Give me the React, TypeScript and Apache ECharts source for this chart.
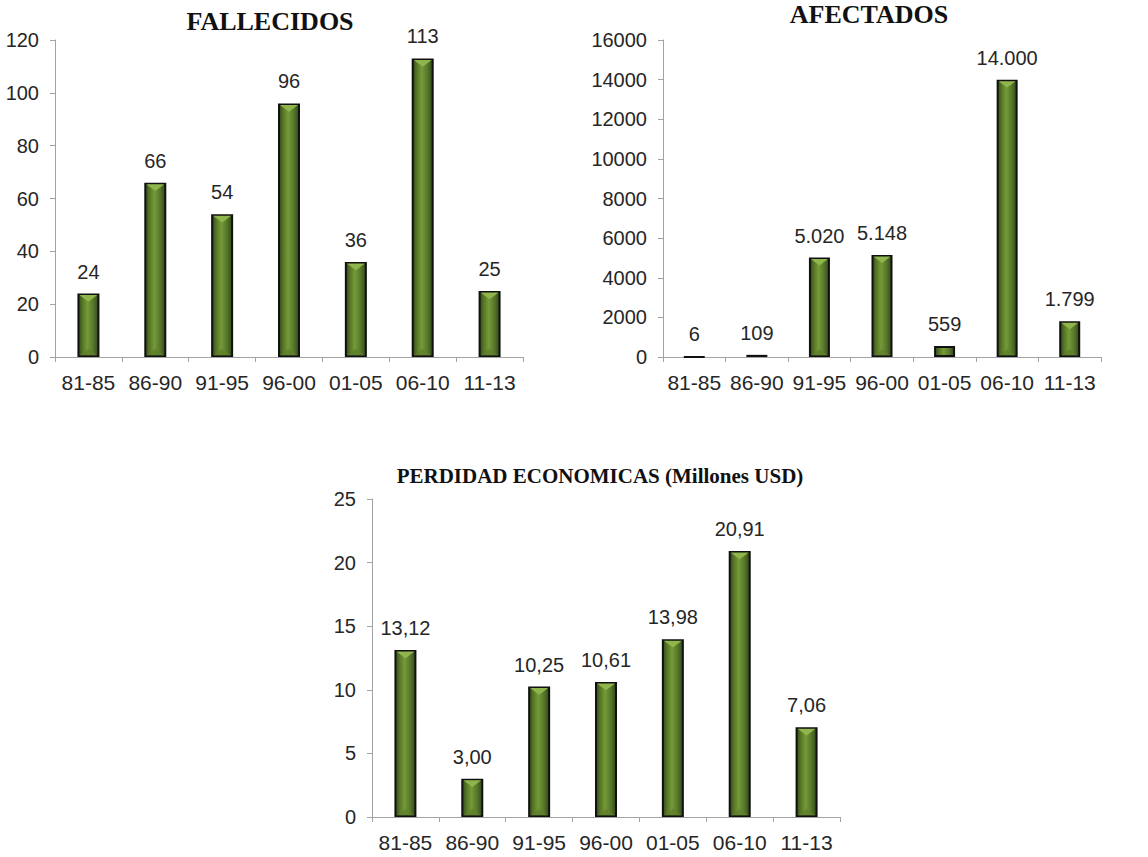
import React, { useEffect, useRef } from "react";
import * as echarts from "echarts";

// Five-year periods shared by the three panels
const periods = ["81-85", "86-90", "91-95", "96-00", "01-05", "06-10", "11-13"];

// Deaths per period
const fallecidos = [24, 66, 54, 96, 36, 113, 25];
// People affected per period
const afectados = [6, 109, 5020, 5148, 559, 14000, 1799];
// Economic losses, millions of USD
const perdidas = [13.12, 3.0, 10.25, 10.61, 13.98, 20.91, 7.06];

const titles = ["FALLECIDOS", "AFECTADOS", "PERDIDAD ECONOMICAS (Millones USD)"];

const SANS = "Liberation Sans, Arial, sans-serif";
const SERIF = "Liberation Serif, Times New Roman, serif";
const TEXT = "#262626";
const AXIS = "#a3a3a3";

// Spanish number style: "." for thousands, "," for decimals
const fmtInt = (v: number) =>
  Math.round(v).toString().replace(/\B(?=(\d{3})+(?!\d))/g, ".");
const fmtDec = (v: number) => v.toFixed(2).replace(".", ",");

const barFill = new echarts.graphic.LinearGradient(0, 0, 1, 0, [
  { offset: 0, color: "#34481a" },
  { offset: 0.2, color: "#557525" },
  { offset: 0.45, color: "#759a38" },
  { offset: 0.75, color: "#55762a" },
  { offset: 1, color: "#33461a" },
]);

const grids = [
  { left: 55, top: 40, width: 468, height: 317 },
  { left: 663, top: 40, width: 438, height: 317 },
  { left: 372, top: 499, width: 468, height: 318 },
];

const yRanges = [
  { max: 120, interval: 20 },
  { max: 16000, interval: 2000 },
  { max: 25, interval: 5 },
];

const barWidths = [22, 21, 22];

export default function App() {
  const ref = useRef<HTMLDivElement>(null);

  useEffect(() => {
    if (!ref.current) return;
    const chart = echarts.init(ref.current, undefined, { renderer: "svg" });

    const xAxis = grids.map((_, i) => ({
      type: "category",
      gridIndex: i,
      data: periods,
      boundaryGap: true,
      axisLine: { lineStyle: { color: AXIS, width: 1 } },
      axisTick: { show: true, length: 5, lineStyle: { color: AXIS } },
      axisLabel: { color: TEXT, fontFamily: SANS, fontSize: 21, margin: 15, interval: 0 },
    }));

    const yAxis = yRanges.map((r, i) => ({
      type: "value",
      gridIndex: i,
      min: 0,
      max: r.max,
      interval: r.interval,
      axisLine: { show: true, lineStyle: { color: AXIS, width: 1 } },
      axisTick: { show: true, length: 5, lineStyle: { color: AXIS } },
      splitLine: { show: false },
      axisLabel: {
        color: TEXT,
        fontFamily: SANS,
        fontSize: 20,
        margin: 16,
        formatter: (v: number) => String(v),
      },
    }));

    const seriesData = [fallecidos, afectados, perdidas];
    const formatters = [fmtInt, fmtInt, fmtDec];

    const bars = seriesData.map((d, i) => ({
      type: "bar",
      xAxisIndex: i,
      yAxisIndex: i,
      data: d,
      barWidth: barWidths[i],
      z: 2,
      itemStyle: { color: barFill, borderColor: "#111", borderWidth: 2 },
      label: {
        show: true,
        position: "top",
        distance: 12,
        color: TEXT,
        fontFamily: SANS,
        fontSize: 20,
        formatter: (p: any) => formatters[i](p.value),
      },
    }));

    // Bevel highlights drawn over each bar: a light notch at the top, a soft one at the base
    const bevels = seriesData.map((d, i) => ({
      type: "custom",
      xAxisIndex: i,
      yAxisIndex: i,
      z: 3,
      silent: true,
      data: d.map((v, k) => [k, v]),
      renderItem: (params: any, api: any) => {
        const top = api.coord([api.value(0), api.value(1)]);
        const base = api.coord([api.value(0), 0]);
        const h = base[1] - top[1];
        if (h < 16) return { type: "group", children: [] };
        const half = barWidths[i] / 2 - 2;
        const cx = top[0];
        return {
          type: "group",
          children: [
            {
              type: "polygon",
              shape: {
                points: [
                  [cx - half, top[1] + 1.5],
                  [cx + half, top[1] + 1.5],
                  [cx, top[1] + 1.5 + half * 0.75],
                ],
              },
              style: { fill: "#8fb64c" },
            },
            {
              type: "polygon",
              shape: {
                points: [
                  [cx - half, base[1] - 1.5],
                  [cx + half, base[1] - 1.5],
                  [cx, base[1] - 1.5 - half * 0.75],
                ],
              },
              style: { fill: "#5f7f2c", opacity: 0.8 },
            },
          ],
        };
      },
    }));

    const titleText = (x: number, y: number, text: string, size: number) => ({
      type: "text",
      x,
      y,
      style: {
        text,
        fill: "#111",
        font: `bold ${size}px ${SERIF}`,
        textAlign: "center",
        textVerticalAlign: "middle",
      },
    });

    chart.setOption({
      animation: false,
      backgroundColor: "#fff",
      grid: grids,
      xAxis,
      yAxis,
      series: [...bars, ...bevels],
      graphic: [
        titleText(270, 21, titles[0], 26),
        titleText(869, 14, titles[1], 26),
        titleText(600, 476, titles[2], 21),
      ],
    });

    return () => chart.dispose();
  }, []);

  return (
    <div
      ref={ref}
      style={{ position: "absolute", left: 0, top: 0, width: 1148, height: 857 }}
    />
  );
}
